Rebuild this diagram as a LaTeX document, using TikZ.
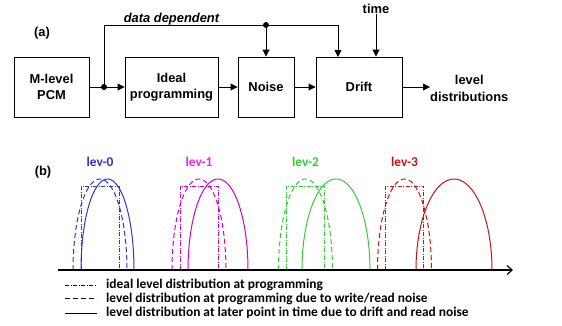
\documentclass[tikz,border=0pt]{standalone}
\usepackage{fontspec}
\setmainfont{Liberation Sans}
\newfontfamily\legfont{Carlito}
\usetikzlibrary{arrows.meta}
\definecolor{levblue}{RGB}{50,50,204}
\definecolor{levmag}{RGB}{204,0,204}
\definecolor{levmaglbl}{RGB}{238,34,238}
\definecolor{levgreen}{RGB}{51,204,51}
\definecolor{levred}{RGB}{204,17,17}

% one level: ideal (dash-dot), noisy (dashed) and drifted (solid) distribution
% #1 colour, #2 label colour, #3 label, #4 programmed centre, #5 drifted centre, #6 drifted half width
\newcommand\leveldist[6]{%
  \draw[idealdist,#1] ({#4-19},270) -- ({#4-19},186) -- ({#4+19},186) -- ({#4+19},270);
  \draw[noisydist,#1] plot[domain=180:0,samples=60] ({#4+27*cos(\x)},{270-91*sin(\x)});
  \draw[driftdist,#1] plot[domain=180:0,samples=60] ({#5+#6*cos(\x)},{270-91*sin(\x)});
  \node[levlbl,text=#2] (#3) at (#4,162) {#3};%
}

\begin{document}
\begin{tikzpicture}[x=1pt,y=-1pt,
  block/.style={draw,line width=0.9pt,minimum height=60pt,inner sep=0pt,align=center,
    font=\fontsize{12.9}{16.5}\selectfont\bfseries},
  arr/.style={line width=0.9pt,-{Triangle[length=7pt,width=7pt]}},
  lbl/.style={font=\fontsize{12.9}{16.5}\selectfont\bfseries,inner sep=0pt},
  junct/.style={circle,fill,inner sep=0pt,minimum size=6pt},
  idealdist/.style={line width=0.7pt,dash pattern=on 4pt off 1.5pt on 1pt off 1.5pt},
  noisydist/.style={line width=1pt,dash pattern=on 5pt off 3pt},
  driftdist/.style={line width=1pt},
  levlbl/.style={font=\legfont\fontsize{13.4}{15}\selectfont\bfseries,inner sep=0pt},
  legtxt/.style={font=\legfont\fontsize{13.4}{15}\selectfont\bfseries,inner sep=0pt,anchor=west},
]
\useasboundingbox (0,0) rectangle (562,325);

% (a) signal chain
\node[lbl] (tagA) at (42,33) {(a)};
\node[block,minimum width=75pt] (pcm) at (51.5,87) {M-level\\PCM};
\node[block,minimum width=93pt] (ideal) at (171.5,87) {Ideal\\programming};
\node[block,minimum width=56pt] (noise) at (266,87) {Noise};
\node[block,minimum width=86pt] (drift) at (359,87) {Drift};
\node[lbl,anchor=west,align=center] (out) at (430,88.5) {level\\distributions};
\node[lbl] (time) at (376,9) {time};
\node[lbl,font=\fontsize{12.9}{16.5}\selectfont\bfseries\itshape] (dd) at (171.5,19.5) {data dependent};

\node[junct] (j1) at (104,87) {};
\node[junct] (j2) at (266,25) {};
\coordinate (driftin) at (338,57);

\draw[arr] (pcm) -- (ideal);
\draw[arr] (ideal) -- (noise);
\draw[arr] (noise) -- (drift);
\draw[arr] (drift.east) -- (drift.east -| out.west);
\draw[line width=0.9pt] (j1.center) |- (j2.center);
\draw[arr] (j2.center) -- (noise.north);
\draw[arr] (j2.center) -| (driftin);
\draw[arr] (time.south) -- (time.south |- drift.north);

% (b) level distributions
\node[lbl] (tagB) at (43,172) {(b)};
\coordinate (ax0) at (58,270);
\coordinate (ax1) at (513,270);

\leveldist{levblue}{levblue}{lev-0}{100}{107.5}{26.5}
\leveldist{levmag}{levmaglbl}{lev-1}{199}{218}{30}
\leveldist{levgreen}{levgreen}{lev-2}{305.5}{336}{34}
\leveldist{levred}{levred}{lev-3}{404.5}{454}{38}

\draw[line width=1.2pt,-{Straight Barb[length=5pt,width=9pt]}] (ax0) -- (ax1);

% legend
\coordinate (l1a) at (65,285); \coordinate (l1b) at (97,285);
\coordinate (l2a) at (65,298); \coordinate (l2b) at (97,298);
\coordinate (l3a) at (65,313); \coordinate (l3b) at (97,313);
\draw[idealdist] (l1a) -- (l1b);
\draw[noisydist] (l2a) -- (l2b);
\draw[driftdist] (l3a) -- (l3b);
\node[legtxt] (leg1) at (106,285) {ideal level distribution at programming};
\node[legtxt] (leg2) at (106,298.5) {level distribution at programming due to write/read noise};
\node[legtxt] (leg3) at (106,313) {level distribution at later point in time due to drift and read noise};
\end{tikzpicture}
\end{document}
